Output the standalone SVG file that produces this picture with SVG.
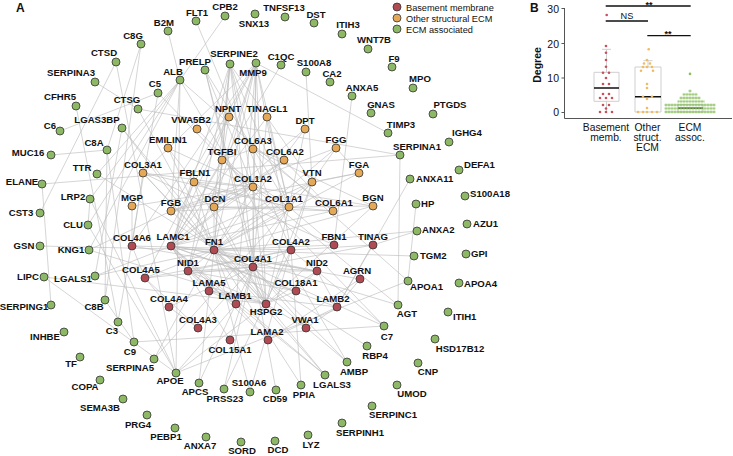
<svg xmlns="http://www.w3.org/2000/svg" width="733" height="456" viewBox="0 0 733 456">
<style>
text{font-family:"Liberation Sans",Arial,sans-serif;fill:#111}
.l{font-size:9.6px;font-weight:bold;text-anchor:middle}
.r{font-size:9.6px;font-weight:bold;text-anchor:start}
.b{fill:#b04a53;stroke:#333;stroke-width:0.8}
.o{fill:#e4a857;stroke:#333;stroke-width:0.8}
.g{fill:#8db865;stroke:#333;stroke-width:0.8}
#edges path{stroke:#bdbdbd;stroke-width:0.75;fill:none;opacity:0.85}
.ax{stroke:#555;stroke-width:1;fill:none}
.bx{stroke:#cfcfcf;stroke-width:1;fill:none}
.med{stroke:#111;stroke-width:1.6}
.sig{stroke:#111;stroke-width:1.3}
.tk{font-size:10.5px;text-anchor:end}
.cat{font-size:10.3px;text-anchor:middle}
.lg{font-size:9.2px}
.dr{fill:#c8505a}
.do{fill:#f0bb62}
.dg{fill:#8cc063}
</style>
<defs>
<pattern id="gp" patternUnits="userSpaceOnUse" x="1.5" y="1.75" width="3" height="3.5"><circle cx="1.5" cy="1.75" r="1.25" fill="#8cc063"/></pattern>
</defs>
<text x="16" y="12" style="font-size:12px;font-weight:bold">A</text>
<text x="530" y="12" style="font-size:12px;font-weight:bold">B</text>
<g id="legend">
<circle cx="397" cy="7" r="4" class="b"/><text x="406" y="10.5" class="lg">Basement membrane</text>
<circle cx="397" cy="18" r="4" class="o"/><text x="406" y="21.5" class="lg">Other structural ECM</text>
<circle cx="397" cy="29" r="4" class="g"/><text x="406" y="32.5" class="lg">ECM associated</text>
</g>
<g id="edges">
<path d="M141,44L107,150M141,44L105,300M107,150L105,300M134,342L107,150M134,342L105,300M158,93L60,131M158,93L118,322M118,322L76,106M384,326L134,342M384,326L158,93"/>
<path d="M95,82L138,109M138,109L214,250M138,109L400,155M42,184L400,155M116,62L40,213M116,62L176,373"/>
<path d="M225,16L180,80M168,31L180,80M196,21L291,250M180,80L171,211M180,80L408,281M180,80L97,174M180,80L89,250M180,80L176,373M180,80L88,225M180,80L90,199M180,80L347,362"/>
<path d="M122,128L325,375M122,128L95,276M122,128L214,250M97,174L367,346M90,199L176,373M90,199L88,225M88,225L176,373M40,246L214,250M44,277L266,304M44,277L176,373M95,276L171,246M95,276L214,250M51,305L42,184M51,155L107,150M89,250L171,211M89,250L266,304"/>
<path d="M154,359L214,250M154,359L312,182M176,373L266,304M176,373L408,281M176,373L236,304M199,383L214,250M199,383L253,267M224,389L253,267M224,389L291,250M250,392L291,250M250,392L214,250M276,390L253,267M301,385L214,250M301,385L291,250M325,375L171,246M325,375L214,250M325,375L236,304M347,362L214,250M347,362L253,267M384,326L291,250M384,326L214,250M398,305L214,250M398,305L400,155M398,305L253,187"/>
<path d="M416,204L408,281M414,256L214,250M417,231L373,245M417,231L214,250M410,179L337,307M352,96L334,245M306,72L312,182M281,65L171,246M256,63L388,133"/>
<path d="M253,267L291,250M253,267L145,278M253,267L132,246M253,267L198,328M253,267L169,307M291,250L145,278M291,250L132,246M198,328L169,307M169,307L145,278M145,278L132,246M198,328L145,278"/>
<path d="M188,271L253,267M188,271L291,250M188,271L171,246M188,271L236,304M188,271L209,291M188,271L266,304M188,271L214,250M188,271L317,271M317,271L253,267M317,271L171,246M317,271L266,304M317,271L337,307"/>
<path d="M171,246L236,304M171,246L209,291M171,246L268,340M171,246L337,307M236,304L209,291M236,304L268,340M337,307L209,291M337,307L268,340M209,291L266,304M171,246L360,279M360,279L337,307M360,279L268,340M266,304L253,267M266,304L296,291M296,291L188,271M296,291L317,271M296,291L171,246"/>
<path d="M214,250L253,267M214,250L171,246M214,250L266,304M214,250L334,245M214,250L289,207M214,250L253,187M214,250L143,173M214,250L312,182M214,250L214,207M214,250L222,160M214,250L194,182M214,250L317,271M214,250L256,63M214,250L171,211M214,250L359,173M214,250L336,148M214,250L145,278M214,250L236,304M214,250L230,64M214,250L168,148M214,250L373,206"/>
<path d="M306,328L337,307M306,328L253,267M306,328L266,304M230,340L253,267M230,340L171,246M373,245L291,250M373,245L337,307M373,245L253,267"/>
<path d="M289,207L253,187M289,207L143,173M253,187L143,173M289,207L214,207M253,187L214,207M289,207L373,206M253,187L373,206M289,207L333,211M333,211L284,160M333,211L253,149M284,160L253,149M253,149L373,206M284,160L214,207M333,211L214,207M289,207L222,160M253,149L222,160M253,187L222,160M289,207L312,182M289,207L194,182M253,187L194,182M194,182L334,245M334,245L289,207"/>
<path d="M359,173L171,211M359,173L336,148M171,211L336,148M336,148L312,182M359,173L312,182M312,182L230,64M312,182L291,250M132,206L253,187M132,206L132,246M229,117L222,160M229,117L171,246M267,117L253,267M267,117L171,246M267,117L289,207M305,129L214,207M305,129L289,207M305,129L214,250M168,148L194,182M168,148L253,187M197,129L253,187M205,70L289,207M205,70L253,187M205,70L266,304M205,70L253,267"/>
<path d="M256,63L289,207M256,63L253,187M256,63L253,267M256,63L291,250M256,63L145,278M256,63L143,173M256,63L236,304M256,63L214,207M256,63L188,271M256,63L132,246M256,63L171,211M256,63L266,304M230,64L253,267M230,64L253,187M230,64L171,246M230,64L214,207M230,64L222,160M230,64L253,149M230,64L289,207M230,64L188,271"/>
<path d="M143,173L214,207M143,173L132,246M143,173L266,304M171,211L289,207M171,211L253,187M214,207L266,304M214,207L171,246M289,207L266,304M289,207L171,246M253,187L171,246M253,187L266,304M289,207L253,267M253,187L253,267M373,206L266,304M333,211L171,246M284,160L171,246M222,160L171,246M194,182L171,246M194,182L266,304M312,182L171,246M312,182L266,304"/>
</g>
<g id="nodes">
<g id="n-FLT1"><circle cx="196" cy="21" r="4" class="g"/><text x="197" y="16.4" class="l">FLT1</text></g>
<g id="n-CPB2"><circle cx="225" cy="16" r="4" class="g"/><text x="225" y="10.4" class="l">CPB2</text></g>
<g id="n-B2M"><circle cx="168" cy="31" r="4" class="g"/><text x="164" y="26.4" class="l">B2M</text></g>
<g id="n-C8G"><circle cx="141" cy="44" r="4" class="g"/><text x="133" y="39.4" class="l">C8G</text></g>
<g id="n-CTSD"><circle cx="116" cy="62" r="4" class="g"/><text x="104" y="56.4" class="l">CTSD</text></g>
<g id="n-SERPINA3"><circle cx="95" cy="82" r="4" class="g"/><text x="71" y="76.4" class="l">SERPINA3</text></g>
<g id="n-CFHR5"><circle cx="76" cy="106" r="4" class="g"/><text x="60" y="100.4" class="l">CFHR5</text></g>
<g id="n-C6"><circle cx="60" cy="131" r="4" class="g"/><text x="50" y="129.4" class="l">C6</text></g>
<g id="n-MUC16"><circle cx="51" cy="155" r="4" class="g"/><text x="28" y="156.4" class="l">MUC16</text></g>
<g id="n-SNX13"><circle cx="255" cy="14" r="4" class="g"/><text x="254" y="27.4" class="l">SNX13</text></g>
<g id="n-TNFSF13"><circle cx="285" cy="17" r="4" class="g"/><text x="284" y="11.4" class="l">TNFSF13</text></g>
<g id="n-DST"><circle cx="314" cy="23" r="4" class="g"/><text x="316" y="18.4" class="l">DST</text></g>
<g id="n-ITIH3"><circle cx="342" cy="34" r="4" class="g"/><text x="348" y="28.4" class="l">ITIH3</text></g>
<g id="n-WNT7B"><circle cx="368" cy="49" r="4" class="g"/><text x="374" y="43.4" class="l">WNT7B</text></g>
<g id="n-F9"><circle cx="392" cy="67" r="4" class="g"/><text x="394" y="62.4" class="l">F9</text></g>
<g id="n-MPO"><circle cx="413" cy="88" r="4" class="g"/><text x="420" y="82.4" class="l">MPO</text></g>
<g id="n-PTGDS"><circle cx="433" cy="114" r="4" class="g"/><text x="450" y="108.4" class="l">PTGDS</text></g>
<g id="n-IGHG4"><circle cx="449" cy="142" r="4" class="g"/><text x="452" y="136.4" class="r">IGHG4</text></g>
<g id="n-C1QC"><circle cx="281" cy="65" r="4" class="g"/><text x="281" y="60.4" class="l">C1QC</text></g>
<g id="n-MMP9"><circle cx="256" cy="63" r="4" class="g"/><text x="253" y="76.4" class="l">MMP9</text></g>
<g id="n-S100A8"><circle cx="306" cy="72" r="4" class="g"/><text x="314" y="66.4" class="l">S100A8</text></g>
<g id="n-CA2"><circle cx="330" cy="82" r="4" class="g"/><text x="332" y="77.4" class="l">CA2</text></g>
<g id="n-ANXA5"><circle cx="352" cy="96" r="4" class="g"/><text x="362" y="91.4" class="l">ANXA5</text></g>
<g id="n-GNAS"><circle cx="371" cy="113" r="4" class="g"/><text x="381" y="108.4" class="l">GNAS</text></g>
<g id="n-TIMP3"><circle cx="388" cy="133" r="4" class="g"/><text x="401" y="128.4" class="l">TIMP3</text></g>
<g id="n-SERPINA1"><circle cx="400" cy="155" r="4" class="g"/><text x="417" y="150.4" class="l">SERPINA1</text></g>
<g id="n-SERPINE2"><circle cx="230" cy="64" r="4" class="g"/><text x="234" y="57.4" class="l">SERPINE2</text></g>
<g id="n-PRELP"><circle cx="205" cy="70" r="4" class="g"/><text x="195" y="65.4" class="l">PRELP</text></g>
<g id="n-ALB"><circle cx="180" cy="80" r="4" class="g"/><text x="173" y="75.4" class="l">ALB</text></g>
<g id="n-C5"><circle cx="158" cy="93" r="4" class="g"/><text x="155" y="87.4" class="l">C5</text></g>
<g id="n-CTSG"><circle cx="138" cy="109" r="4" class="g"/><text x="127" y="103.4" class="l">CTSG</text></g>
<g id="n-LGAS3BP"><circle cx="122" cy="128" r="4" class="g"/><text x="97" y="123.4" class="l">LGAS3BP</text></g>
<g id="n-C8A"><circle cx="107" cy="150" r="4" class="g"/><text x="94" y="146.4" class="l">C8A</text></g>
<g id="n-NPNT"><circle cx="229" cy="117" r="4" class="o"/><text x="228" y="112.4" class="l">NPNT</text></g>
<g id="n-TINAGL1"><circle cx="267" cy="117" r="4" class="o"/><text x="267" y="112.4" class="l">TINAGL1</text></g>
<g id="n-VWA5B2"><circle cx="197" cy="129" r="4" class="o"/><text x="191" y="123.4" class="l">VWA5B2</text></g>
<g id="n-DPT"><circle cx="305" cy="129" r="4" class="o"/><text x="305" y="124.4" class="l">DPT</text></g>
<g id="n-EMILIN1"><circle cx="168" cy="148" r="4" class="o"/><text x="168" y="143.4" class="l">EMILIN1</text></g>
<g id="n-COL6A3"><circle cx="253" cy="149" r="4" class="o"/><text x="253" y="144.4" class="l">COL6A3</text></g>
<g id="n-FGG"><circle cx="336" cy="148" r="4" class="o"/><text x="336" y="143.4" class="l">FGG</text></g>
<g id="n-TGFBI"><circle cx="222" cy="160" r="4" class="o"/><text x="222" y="155.4" class="l">TGFBI</text></g>
<g id="n-COL6A2"><circle cx="284" cy="160" r="4" class="o"/><text x="285" y="155.4" class="l">COL6A2</text></g>
<g id="n-FBLN1"><circle cx="194" cy="182" r="4" class="o"/><text x="195" y="176.4" class="l">FBLN1</text></g>
<g id="n-COL1A2"><circle cx="253" cy="187" r="4" class="o"/><text x="253" y="182.4" class="l">COL1A2</text></g>
<g id="n-VTN"><circle cx="312" cy="182" r="4" class="o"/><text x="312" y="176.4" class="l">VTN</text></g>
<g id="n-FGA"><circle cx="359" cy="173" r="4" class="o"/><text x="359" y="168.4" class="l">FGA</text></g>
<g id="n-DCN"><circle cx="214" cy="207" r="4" class="o"/><text x="215" y="202.4" class="l">DCN</text></g>
<g id="n-COL1A1"><circle cx="289" cy="207" r="4" class="o"/><text x="284" y="202.4" class="l">COL1A1</text></g>
<g id="n-COL6A1"><circle cx="333" cy="211" r="4" class="o"/><text x="334" y="206.4" class="l">COL6A1</text></g>
<g id="n-BGN"><circle cx="373" cy="206" r="4" class="o"/><text x="373" y="201.4" class="l">BGN</text></g>
<g id="n-COL3A1"><circle cx="143" cy="173" r="4" class="o"/><text x="143" y="168.4" class="l">COL3A1</text></g>
<g id="n-MGP"><circle cx="132" cy="206" r="4" class="o"/><text x="132" y="201.4" class="l">MGP</text></g>
<g id="n-FGB"><circle cx="171" cy="211" r="4" class="o"/><text x="171" y="206.4" class="l">FGB</text></g>
<g id="n-TTR"><circle cx="97" cy="174" r="4" class="g"/><text x="82" y="171.4" class="l">TTR</text></g>
<g id="n-ELANE"><circle cx="42" cy="184" r="4" class="g"/><text x="22" y="185.4" class="l">ELANE</text></g>
<g id="n-LRP2"><circle cx="90" cy="199" r="4" class="g"/><text x="73" y="200.4" class="l">LRP2</text></g>
<g id="n-CST3"><circle cx="40" cy="213" r="4" class="g"/><text x="21" y="216.4" class="l">CST3</text></g>
<g id="n-CLU"><circle cx="88" cy="225" r="4" class="g"/><text x="73" y="228.4" class="l">CLU</text></g>
<g id="n-GSN"><circle cx="40" cy="246" r="4" class="g"/><text x="24" y="249.4" class="l">GSN</text></g>
<g id="n-KNG1"><circle cx="89" cy="250" r="4" class="g"/><text x="71" y="253.4" class="l">KNG1</text></g>
<g id="n-LIPC"><circle cx="44" cy="277" r="4" class="g"/><text x="28" y="280.4" class="l">LIPC</text></g>
<g id="n-LGALS1"><circle cx="95" cy="276" r="4" class="g"/><text x="73" y="282.4" class="l">LGALS1</text></g>
<g id="n-SERPING1"><circle cx="51" cy="305" r="4" class="g"/><text x="24" y="310.4" class="l">SERPING1</text></g>
<g id="n-C8B"><circle cx="105" cy="300" r="4" class="g"/><text x="94" y="310.4" class="l">C8B</text></g>
<g id="n-C3"><circle cx="118" cy="322" r="4" class="g"/><text x="112" y="334.4" class="l">C3</text></g>
<g id="n-INHBE"><circle cx="64" cy="332" r="4" class="g"/><text x="45" y="340.4" class="l">INHBE</text></g>
<g id="n-C9"><circle cx="134" cy="342" r="4" class="g"/><text x="130" y="355.4" class="l">C9</text></g>
<g id="n-TF"><circle cx="80" cy="357" r="4" class="g"/><text x="71" y="367.4" class="l">TF</text></g>
<g id="n-SERPINA5"><circle cx="154" cy="359" r="4" class="g"/><text x="130" y="371.4" class="l">SERPINA5</text></g>
<g id="n-COPA"><circle cx="100" cy="380" r="4" class="g"/><text x="85" y="390.4" class="l">COPA</text></g>
<g id="n-APOE"><circle cx="176" cy="373" r="4" class="g"/><text x="170" y="384.4" class="l">APOE</text></g>
<g id="n-APCS"><circle cx="199" cy="383" r="4" class="g"/><text x="195" y="395.4" class="l">APCS</text></g>
<g id="n-SEMA3B"><circle cx="123" cy="399" r="4" class="g"/><text x="100" y="411.4" class="l">SEMA3B</text></g>
<g id="n-PRG4"><circle cx="147" cy="415" r="4" class="g"/><text x="138" y="428.4" class="l">PRG4</text></g>
<g id="n-PEBP1"><circle cx="175" cy="428" r="4" class="g"/><text x="166" y="440.4" class="l">PEBP1</text></g>
<g id="n-ANXA7"><circle cx="206" cy="437" r="4" class="g"/><text x="200" y="449.4" class="l">ANXA7</text></g>
<g id="n-SORD"><circle cx="241" cy="442" r="4" class="g"/><text x="242" y="454.4" class="l">SORD</text></g>
<g id="n-DCD"><circle cx="275" cy="441" r="4" class="g"/><text x="278" y="453.4" class="l">DCD</text></g>
<g id="n-LYZ"><circle cx="308" cy="435" r="4" class="g"/><text x="311" y="448.4" class="l">LYZ</text></g>
<g id="n-SERPINH1"><circle cx="342" cy="423" r="4" class="g"/><text x="360" y="436.4" class="l">SERPINH1</text></g>
<g id="n-SERPINC1"><circle cx="372" cy="406" r="4" class="g"/><text x="393" y="418.4" class="l">SERPINC1</text></g>
<g id="n-UMOD"><circle cx="397" cy="385" r="4" class="g"/><text x="412" y="397.4" class="l">UMOD</text></g>
<g id="n-CNP"><circle cx="418" cy="363" r="4" class="g"/><text x="428" y="375.4" class="l">CNP</text></g>
<g id="n-HSD17B12"><circle cx="435" cy="339" r="4" class="g"/><text x="460" y="352.4" class="l">HSD17B12</text></g>
<g id="n-ITIH1"><circle cx="448" cy="312" r="4" class="g"/><text x="453" y="320.4" class="r">ITIH1</text></g>
<g id="n-AGT"><circle cx="398" cy="305" r="4" class="g"/><text x="407" y="317.4" class="l">AGT</text></g>
<g id="n-C7"><circle cx="384" cy="326" r="4" class="g"/><text x="387" y="340.4" class="l">C7</text></g>
<g id="n-RBP4"><circle cx="367" cy="346" r="4" class="g"/><text x="375" y="359.4" class="l">RBP4</text></g>
<g id="n-AMBP"><circle cx="347" cy="362" r="4" class="g"/><text x="354" y="375.4" class="l">AMBP</text></g>
<g id="n-LGALS3"><circle cx="325" cy="375" r="4" class="g"/><text x="332" y="388.4" class="l">LGALS3</text></g>
<g id="n-PPIA"><circle cx="301" cy="385" r="4" class="g"/><text x="304" y="398.4" class="l">PPIA</text></g>
<g id="n-CD59"><circle cx="276" cy="390" r="4" class="g"/><text x="275" y="402.4" class="l">CD59</text></g>
<g id="n-S100A6"><circle cx="250" cy="392" r="4" class="g"/><text x="249" y="386.4" class="l">S100A6</text></g>
<g id="n-PRSS23"><circle cx="224" cy="389" r="4" class="g"/><text x="225" y="402.4" class="l">PRSS23</text></g>
<g id="n-ANXA11"><circle cx="410" cy="179" r="4" class="g"/><text x="416" y="182.4" class="r">ANXA11</text></g>
<g id="n-DEFA1"><circle cx="459" cy="170" r="4" class="g"/><text x="464" y="168.4" class="r">DEFA1</text></g>
<g id="n-HP"><circle cx="416" cy="204" r="4" class="g"/><text x="421" y="207.4" class="r">HP</text></g>
<g id="n-S100A18"><circle cx="465" cy="196" r="4" class="g"/><text x="470" y="197.4" class="r">S100A18</text></g>
<g id="n-ANXA2"><circle cx="417" cy="231" r="4" class="g"/><text x="422" y="233.4" class="r">ANXA2</text></g>
<g id="n-AZU1"><circle cx="467" cy="224" r="4" class="g"/><text x="473" y="227.4" class="r">AZU1</text></g>
<g id="n-TGM2"><circle cx="414" cy="256" r="4" class="g"/><text x="420" y="259.4" class="r">TGM2</text></g>
<g id="n-GPI"><circle cx="466" cy="254" r="4" class="g"/><text x="471" y="257.4" class="r">GPI</text></g>
<g id="n-APOA1"><circle cx="408" cy="281" r="4" class="g"/><text x="410" y="290.4" class="r">APOA1</text></g>
<g id="n-APOA4"><circle cx="459" cy="283" r="4" class="g"/><text x="464" y="287.4" class="r">APOA4</text></g>
<g id="n-COL4A6"><circle cx="132" cy="246" r="4" class="b"/><text x="132" y="241.4" class="l">COL4A6</text></g>
<g id="n-LAMC1"><circle cx="171" cy="246" r="4" class="b"/><text x="173" y="240.4" class="l">LAMC1</text></g>
<g id="n-FN1"><circle cx="214" cy="250" r="4" class="b"/><text x="214" y="245.4" class="l">FN1</text></g>
<g id="n-COL4A2"><circle cx="291" cy="250" r="4" class="b"/><text x="291" y="245.4" class="l">COL4A2</text></g>
<g id="n-FBN1"><circle cx="334" cy="245" r="4" class="b"/><text x="334" y="240.4" class="l">FBN1</text></g>
<g id="n-TINAG"><circle cx="373" cy="245" r="4" class="b"/><text x="373" y="240.4" class="l">TINAG</text></g>
<g id="n-NID1"><circle cx="188" cy="271" r="4" class="b"/><text x="188" y="266.4" class="l">NID1</text></g>
<g id="n-COL4A1"><circle cx="253" cy="267" r="4" class="b"/><text x="253" y="262.4" class="l">COL4A1</text></g>
<g id="n-NID2"><circle cx="317" cy="271" r="4" class="b"/><text x="317" y="266.4" class="l">NID2</text></g>
<g id="n-AGRN"><circle cx="360" cy="279" r="4" class="b"/><text x="357" y="274.4" class="l">AGRN</text></g>
<g id="n-COL4A5"><circle cx="145" cy="278" r="4" class="b"/><text x="141" y="273.4" class="l">COL4A5</text></g>
<g id="n-LAMA5"><circle cx="209" cy="291" r="4" class="b"/><text x="209" y="286.4" class="l">LAMA5</text></g>
<g id="n-COL18A1"><circle cx="296" cy="291" r="4" class="b"/><text x="296" y="286.4" class="l">COL18A1</text></g>
<g id="n-LAMB1"><circle cx="236" cy="304" r="4" class="b"/><text x="235" y="299.4" class="l">LAMB1</text></g>
<g id="n-HSPG2"><circle cx="266" cy="304" r="4" class="b"/><text x="266" y="315.4" class="l">HSPG2</text></g>
<g id="n-LAMB2"><circle cx="337" cy="307" r="4" class="b"/><text x="333" y="302.4" class="l">LAMB2</text></g>
<g id="n-COL4A4"><circle cx="169" cy="307" r="4" class="b"/><text x="169" y="302.4" class="l">COL4A4</text></g>
<g id="n-VWA1"><circle cx="306" cy="328" r="4" class="b"/><text x="305" y="323.4" class="l">VWA1</text></g>
<g id="n-COL4A3"><circle cx="198" cy="328" r="4" class="b"/><text x="198" y="323.4" class="l">COL4A3</text></g>
<g id="n-LAMA2"><circle cx="268" cy="340" r="4" class="b"/><text x="267" y="335.4" class="l">LAMA2</text></g>
<g id="n-COL15A1"><circle cx="230" cy="340" r="4" class="b"/><text x="230" y="353.4" class="l">COL15A1</text></g>
</g>
<g id="chart">
<path class="ax" d="M564.5,8V118.5H732M561.5,8.5H564.5M561.5,43.5H564.5M561.5,78H564.5M561.5,112.5H564.5"/>
<text x="559" y="12.5" class="tk">30</text>
<text x="559" y="47.5" class="tk">20</text>
<text x="559" y="82" class="tk">10</text>
<text x="559" y="116" class="tk">0</text>
<text transform="translate(541,65) rotate(-90)" style="font-size:10.5px;font-weight:bold;text-anchor:middle">Degree</text>
<path class="bx" d="M594,72.3H619V101.3H594ZM606.5,72.3V49.3M602,49.3H611M606.5,101.3V112M635,67H661V112H635ZM648,67V60.7M643.5,60.7H652.5M678,104.5H703V112H678Z"/>
<path class="med" d="M594,88H619M635,96.7H661M678,108.3H703"/>
<g class="dr">
<circle cx="606.7" cy="15" r="1.3"/><circle cx="606" cy="46" r="1.3"/><circle cx="606" cy="52.7" r="1.3"/><circle cx="606" cy="60" r="1.3"/><circle cx="606" cy="66.7" r="1.3"/><circle cx="603" cy="72.7" r="1.3"/><circle cx="609" cy="72.7" r="1.3"/><circle cx="606" cy="78" r="1.3"/><circle cx="603" cy="84" r="1.3"/><circle cx="609" cy="84" r="1.3"/><circle cx="603" cy="94" r="1.3"/><circle cx="609" cy="94" r="1.3"/><circle cx="600" cy="98" r="1.3"/><circle cx="606" cy="98" r="1.3"/><circle cx="612" cy="98" r="1.3"/><circle cx="603" cy="105" r="1.3"/><circle cx="609" cy="105" r="1.3"/><circle cx="606" cy="108.5" r="1.3"/><circle cx="600" cy="112" r="1.3"/><circle cx="606" cy="112" r="1.3"/><circle cx="612" cy="112" r="1.3"/>
</g>
<g class="do">
<circle cx="648.7" cy="49.3" r="1.3"/><circle cx="647" cy="60" r="1.3"/><circle cx="644" cy="63.5" r="1.3"/><circle cx="650" cy="63.5" r="1.3"/><circle cx="643" cy="67" r="1.3"/><circle cx="647" cy="67" r="1.3"/><circle cx="652" cy="67" r="1.3"/><circle cx="641" cy="70.7" r="1.3"/><circle cx="653" cy="70.7" r="1.3"/><circle cx="647" cy="84" r="1.3"/><circle cx="647" cy="88" r="1.3"/><circle cx="643" cy="96.7" r="1.3"/><circle cx="652" cy="96.7" r="1.3"/><circle cx="647" cy="99" r="1.3"/><circle cx="647" cy="108" r="1.3"/><circle cx="638" cy="112" r="1.3"/><circle cx="643" cy="112" r="1.3"/><circle cx="647" cy="112" r="1.3"/><circle cx="652" cy="112" r="1.3"/><circle cx="657" cy="112" r="1.3"/>
</g>
<rect x="664.5" y="103.25" width="51" height="10.5" fill="url(#gp)"/>
<rect x="677.5" y="99.75" width="27" height="3.5" fill="url(#gp)"/>
<rect x="679.5" y="96.25" width="21" height="3.5" fill="url(#gp)"/>
<rect x="682.5" y="92.75" width="15" height="3.5" fill="url(#gp)"/>
<rect x="688.5" y="89.25" width="3" height="3.5" fill="url(#gp)"/>
<circle cx="690" cy="73.9" r="1.3" class="dg"/>
<path class="sig" d="M605.7,6H690.7M605.7,21H648M647.3,35.7H690.7"/>
<text x="649" y="7.6" style="font-size:9px;font-weight:bold;text-anchor:middle">**</text>
<text x="627" y="19.3" style="font-size:9.2px;text-anchor:middle">NS</text>
<text x="668" y="37.2" style="font-size:9px;font-weight:bold;text-anchor:middle">**</text>
<text x="606" y="131" class="cat">Basement</text>
<text x="606" y="141" class="cat">memb.</text>
<text x="647.5" y="131" class="cat">Other</text>
<text x="647.5" y="141" class="cat">struct.</text>
<text x="647.5" y="151" class="cat">ECM</text>
<text x="690" y="131" class="cat">ECM</text>
<text x="690" y="141" class="cat">assoc.</text>
</g>
</svg>
